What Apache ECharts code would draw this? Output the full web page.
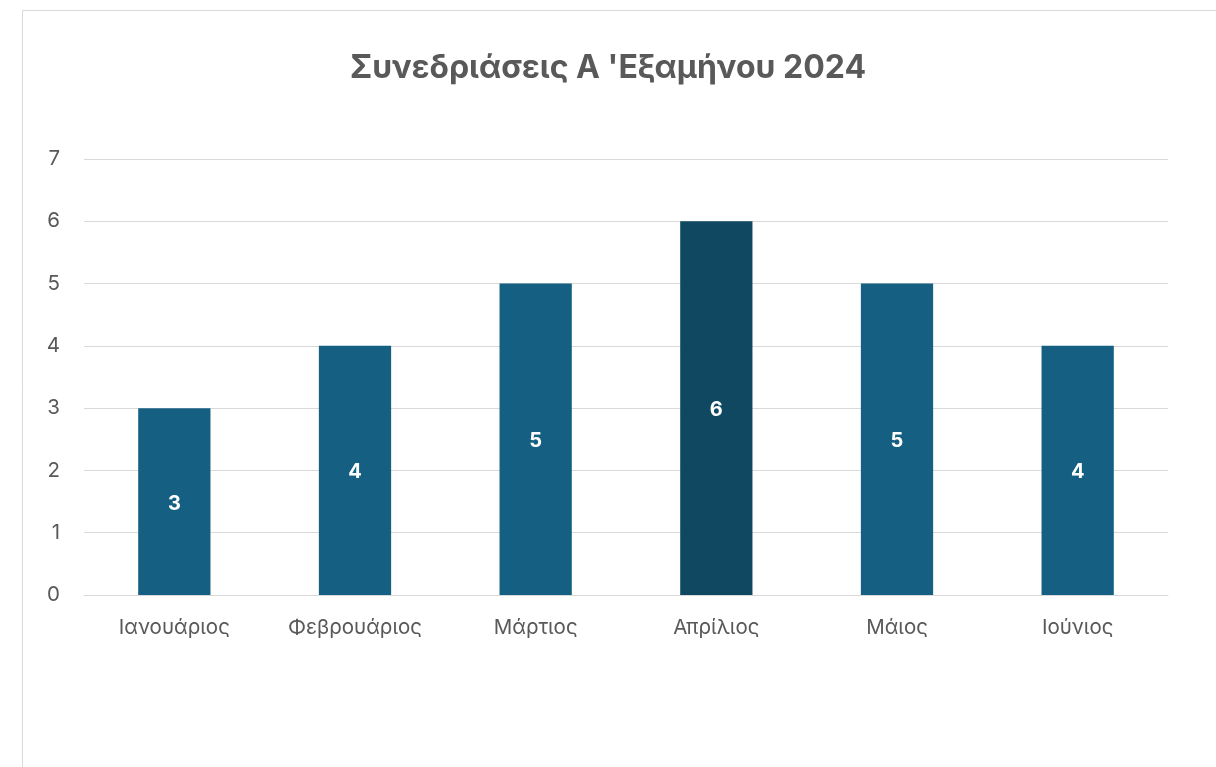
<!DOCTYPE html>
<html>
<head>
<meta charset="utf-8">
<script src="https://cdn.jsdelivr.net/npm/echarts@6/dist/echarts.min.js"></script>
<style>html,body{margin:0;padding:0;background:#fff;}#c{width:1216px;height:767px;}</style>
</head>
<body>
<div id="c"></div>
<script>
const titleText = "Συνεδριάσεις Α 'Εξαμήνου 2024";
const categories = ["Ιανουάριος", "Φεβρουάριος", "Μάρτιος", "Απρίλιος", "Μάιος", "Ιούνιος"];
const values = [3, 4, 5, 6, 5, 4];
const highlightIndex = 3;
const yTicks = [0, 1, 2, 3, 4, 5, 6, 7];

const chart = echarts.init(document.getElementById('c'), null, {renderer: 'canvas'});
const font = "Inter, 'Noto Sans', sans-serif";
chart.setOption({
  animation: false,
  graphic: [{
    type: 'rect',
    shape: {x: 22.5, y: 10.5, width: 1200, height: 800},
    style: {fill: 'none', stroke: '#d9d9d9', lineWidth: 1},
    silent: true
  }],
  title: {
    text: titleText,
    left: 'center',
    top: 47,
    textStyle: {fontFamily: font, fontSize: 32, fontWeight: 'bold', color: '#595959'}
  },
  grid: {left: 84, right: 48, top: 159, bottom: 172, containLabel: false},
  xAxis: {
    type: 'category',
    data: categories,
    axisLine: {lineStyle: {color: '#d9d9d9', width: 1}},
    axisTick: {show: false},
    axisLabel: {fontFamily: font, fontSize: 20.5, color: '#595959', margin: 22}
  },
  yAxis: {
    type: 'value',
    min: yTicks[0],
    max: yTicks[yTicks.length - 1],
    interval: 1,
    axisLine: {show: false},
    axisTick: {show: false},
    splitLine: {lineStyle: {color: '#d9d9d9', width: 1}},
    axisLabel: {fontFamily: font, fontSize: 20.5, color: '#595959', margin: 24}
  },
  series: [{
    type: 'bar',
    barWidth: '40%',
    data: values.map((v, i) => ({
      value: v,
      itemStyle: {color: i === highlightIndex ? '#104862' : '#156082'}
    })),
    label: {
      show: true,
      position: 'inside',
      offset: [0, 2],
      fontFamily: font,
      fontSize: 20,
      fontWeight: 'bold',
      color: '#ffffff'
    }
  }]
});
</script>
</body>
</html>
